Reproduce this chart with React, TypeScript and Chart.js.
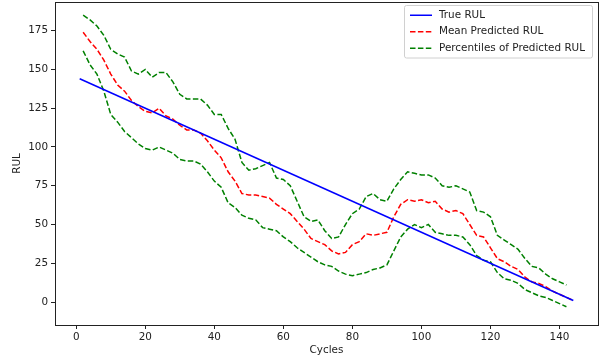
import React, { useEffect, useRef } from "react";
import { Chart, registerables } from "chart.js";

Chart.register(...registerables);

const cycles = [2, 4, 6, 8, 10, 12, 14, 16, 18, 20, 22, 24, 26, 28, 30, 32, 34, 36, 38, 40, 42, 44, 46, 48, 50, 52, 54, 56, 58, 60, 62, 64, 66, 68, 70, 72, 74, 76, 78, 80, 82, 84, 86, 88, 90, 92, 94, 96, 98, 100, 102, 104, 106, 108, 110, 112, 114, 116, 118, 120, 122, 124, 126, 128, 130, 132, 134, 136, 138, 140, 142, 144];

const trueCycles = [1, 144];
const trueRUL = [144, 1];

const meanPred = [174, 168, 163, 156, 147, 140, 136, 130, 126, 123, 122, 125, 120, 118, 114, 111, 111, 109, 104, 98, 93, 84, 78, 70, 69, 69, 68, 67, 63, 60, 57, 52, 47, 41, 39, 37, 33, 31, 32, 37, 39, 44, 43, 44, 45, 55, 63, 66, 65, 66, 64, 65, 60, 58, 59, 57, 50, 43, 42, 35, 28, 26, 23, 21, 16, 13, 12, 10, 7, 5, 3, 1];

const upperPct = [185, 182, 178, 172, 163, 160, 158, 149, 147, 150, 145, 148, 148, 142, 134, 131, 131, 131, 127, 121, 121, 112, 105, 90, 85, 86, 88, 90, 80, 79, 75, 65, 55, 52, 53, 46, 41, 42, 50, 57, 60, 68, 70, 66, 65, 73, 79, 84, 83, 82, 82, 80, 75, 74, 75, 73, 71, 59, 58, 55, 43, 40, 37, 34, 28, 23, 22, 18, 15, 13, 11, null];

const lowerPct = [162, 153, 147, 136, 121, 116, 110, 106, 102, 99, 98, 100, 98, 96, 92, 91, 91, 89, 84, 78, 74, 64, 61, 56, 54, 53, 48, 47, 46, 42, 39, 35, 32, 29, 26, 24, 23, 20, 18, 17, 18, 19, 21, 22, 24, 33, 42, 47, 50, 48, 50, 45, 44, 43, 43, 42, 37, 30, 27, 26, 19, 15, 14, 12, 8, 6, 4, 3, 1, -1, -3, null];

const xTicks = [0, 20, 40, 60, 80, 100, 120, 140];
const yTicks = [0, 25, 50, 75, 100, 125, 150, 175];

const FONT = "'DejaVu Sans', sans-serif";
const FS = 10.4;
const DASH = [5.5, 2.4];

const framePlugin = {
  id: "frame",
  afterDatasetsDraw(chart: any) {
    const { ctx, chartArea: a } = chart;
    ctx.save();
    ctx.strokeStyle = "#222";
    ctx.lineWidth = 1;
    ctx.strokeRect(Math.round(a.left) + 0.5, Math.round(a.top) + 0.5, Math.round(a.right - a.left), Math.round(a.bottom - a.top));
    ctx.restore();
  },
};

const legendPlugin = {
  id: "mplLegend",
  afterDraw(chart: any) {
    const { ctx, chartArea: a } = chart;
    const items = chart.data.datasets.filter((d: any) => !d.hideInLegend);
    ctx.save();
    ctx.font = `${FS}px ${FONT}`;
    let maxW = 0;
    items.forEach((d: any) => { maxW = Math.max(maxW, ctx.measureText(d.label).width); });
    const rowH = 16.5;
    const w = 8 + 22 + 8 + maxW + 4;
    const h = items.length * rowH + 3;
    const x0 = a.right - 6 - w;
    const y0 = a.top + 3;
    ctx.fillStyle = "rgba(255,255,255,0.8)";
    ctx.strokeStyle = "#d0d0d0";
    ctx.lineWidth = 1;
    ctx.beginPath();
    (ctx as any).roundRect(x0 + 0.5, y0 + 0.5, w, h, 2);
    ctx.fill();
    ctx.stroke();
    items.forEach((d: any, i: number) => {
      const cy = y0 + 2 + rowH * i + rowH / 2;
      ctx.strokeStyle = d.borderColor;
      ctx.lineWidth = 1.5;
      ctx.setLineDash(d.borderDash || []);
      ctx.beginPath();
      ctx.moveTo(x0 + 6, cy);
      ctx.lineTo(x0 + 28, cy);
      ctx.stroke();
      ctx.setLineDash([]);
      ctx.fillStyle = "#222";
      ctx.textBaseline = "middle";
      ctx.textAlign = "left";
      ctx.fillText(d.label, x0 + 35, cy);
    });
    ctx.restore();
  },
};

export default function App() {
  const ref = useRef<HTMLCanvasElement>(null);
  useEffect(() => {
    const canvas = ref.current!;
    const pts = (xs: number[], ys: (number | null)[]) => xs.map((x, i) => ({ x, y: ys[i] }));
    const chart = new Chart(canvas, {
      type: "line",
      data: {
        datasets: [
          { label: "True RUL", data: pts(trueCycles, trueRUL), borderColor: "#0000ff", borderWidth: 1.5, pointRadius: 0, fill: false },
          { label: "Mean Predicted RUL", data: pts(cycles, meanPred), borderColor: "#ff0000", borderWidth: 1.5, borderDash: DASH, pointRadius: 0, fill: false },
          { label: "Percentiles of Predicted RUL", data: pts(cycles, upperPct), borderColor: "#008000", borderWidth: 1.5, borderDash: DASH, pointRadius: 0, fill: false },
          { label: "Percentiles of Predicted RUL", hideInLegend: true, data: pts(cycles, lowerPct), borderColor: "#008000", borderWidth: 1.5, borderDash: DASH, pointRadius: 0, fill: false },
        ] as any,
      },
      options: {
        animation: false,
        responsive: false,
        maintainAspectRatio: false,
        layout: { padding: { top: 2, right: 4, left: 0, bottom: 0 } },
        plugins: { legend: { display: false }, tooltip: { enabled: false } },
        elements: { line: { tension: 0 } },
        scales: {
          x: {
            type: "linear",
            min: -6.15,
            max: 151.15,
            afterBuildTicks: (s: any) => { s.ticks = xTicks.map((v) => ({ value: v })); },
            afterFit: (s: any) => { s.height = 37; s.paddingLeft = 0; s.paddingRight = 0; },
            ticks: { color: "#222", font: { family: FONT, size: FS }, padding: 2, maxRotation: 0 },
            grid: { display: true, drawOnChartArea: false, tickLength: 4, tickColor: "#222" },
            border: { display: true, color: "#222" },
            title: { display: true, text: "Cycles", color: "#222", font: { family: FONT, size: FS }, padding: { top: 0, bottom: 5 } },
          },
          y: {
            type: "linear",
            min: -14.8,
            max: 193.5,
            afterBuildTicks: (s: any) => { s.ticks = yTicks.map((v) => ({ value: v })); },
            afterFit: (s: any) => { s.width = 55; s.paddingTop = 0; s.paddingBottom = 0; },
            ticks: { color: "#222", font: { family: FONT, size: FS }, padding: 3 },
            grid: { display: true, drawOnChartArea: false, tickLength: 4, tickColor: "#222" },
            border: { display: true, color: "#222" },
            title: { display: true, text: "RUL", color: "#222", font: { family: FONT, size: FS }, padding: { top: 11, bottom: 0 } },
          },
        },
      },
      plugins: [framePlugin, legendPlugin],
    });
    return () => chart.destroy();
  }, []);
  return (
    <div style={{ position: "fixed", left: 0, top: 0, width: 602, height: 362, background: "#fff" }}>
      <canvas ref={ref} width={602} height={362} style={{ width: 602, height: 362, display: "block" }} />
    </div>
  );
}
